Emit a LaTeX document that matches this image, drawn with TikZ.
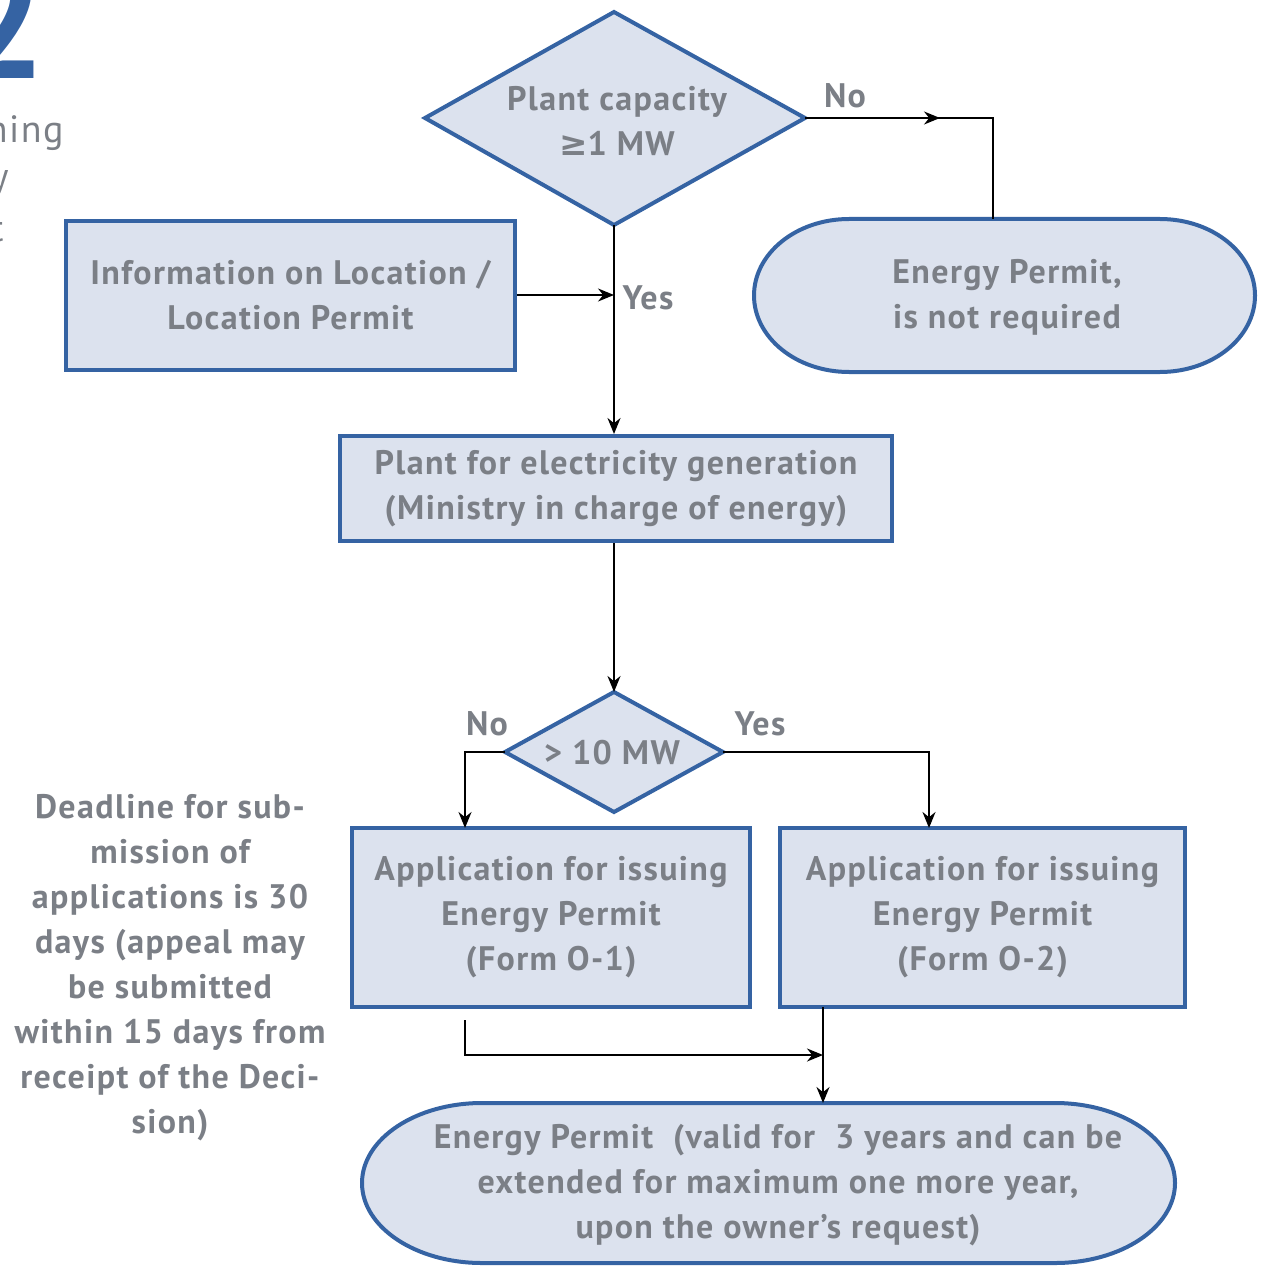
\documentclass[tikz,border=0pt]{standalone}
\usepackage{fontspec}
\setmainfont{PT Sans}[LetterSpace=4]
\newfontfamily\dv{DejaVu Sans}
\usetikzlibrary{arrows.meta}
\definecolor{bord}{HTML}{3563A3}
\definecolor{fil}{HTML}{DCE2EE}
\definecolor{txt}{HTML}{7B7F86}
\begin{document}
\begin{tikzpicture}[x=0.5pt,y=-0.5pt,
  every node/.style={font=\bfseries\fontsize{17}{22.5}\selectfont, text=txt},
  box/.style={draw=bord, fill=fil, line width=2pt, inner sep=0pt, align=center},
  shapeline/.style={draw=bord, fill=fil, line width=2pt},
  lbl/.style={inner sep=0pt, align=center},
  conn/.style={draw=black, line width=1pt},
  arr/.style={conn, -{Stealth[length=8pt,width=6.5pt]}}]
\useasboundingbox (0,0) rectangle (1263,1267);
\clip (0,0) rectangle (1263,1267);

% cut-off fragments at top-left
\node[anchor=base east, inner sep=0pt, text=bord, font=\bfseries\fontsize{80}{80}\selectfont] (big) at (47,79) {2};
\node[anchor=base east, inner sep=0pt, font=\fontsize{19}{22}\selectfont] (fa) at (64,143) {ning};
\node[anchor=base east, inner sep=0pt, font=\fontsize{19}{22}\selectfont] (fb) at (9,190) {y};
\node[anchor=base east, inner sep=0pt, font=\fontsize{19}{22}\selectfont] (fc) at (4,242) {t};

% diamond 1
\coordinate (d1w) at (425,118);
\coordinate (d1e) at (805,118);
\coordinate (d1n) at (614,12);
\coordinate (d1s) at (614,225);
\draw[shapeline] (d1w) -- (d1n) -- (d1e) -- (d1s) -- cycle;
\node[lbl] (d1t) at (617,121) {Plant capacity\\{\dv ≥}1 MW};

% stadium: energy permit not required
\path[shapeline] (849,219) -- (1160,219)
  arc[start angle=-90,end angle=90,x radius=95,y radius=76.5]
  -- (849,372) arc[start angle=90,end angle=270,x radius=95,y radius=76.5] -- cycle;
\node[lbl] (ep) at (1007,297) {Energy Permit,\\is not required};
\coordinate (epn) at (993,219);

% info box
\node[box, minimum width=224.5pt, minimum height=74.5pt] (info) at (290.5,295.5) {Information on Location /\\Location Permit};

% plant box
\node[box, minimum width=276pt, minimum height=52.5pt] (plant) at (616,488.5) {Plant for electricity generation\\(Ministry in charge of energy)};

% diamond 2
\coordinate (d2w) at (505,752);
\coordinate (d2e) at (723,752);
\coordinate (d2n) at (614,692);
\coordinate (d2s) at (614,812);
\draw[shapeline] (d2w) -- (d2n) -- (d2e) -- (d2s) -- cycle;
\node[lbl] (d2t) at (612,753) {> 10 MW};

% application boxes
\node[box, minimum width=199pt, minimum height=89.5pt] (app1) at (551,917.5) {Application for issuing\\Energy Permit\\(Form O-1)};
\node[box, minimum width=202.5pt, minimum height=89.5pt] (app2) at (982.5,917.5) {Application for issuing\\Energy Permit\\(Form O-2)};

% final stadium
\path[shapeline] (482,1103) -- (1055,1103)
  arc[start angle=-90,end angle=90,x radius=120,y radius=80]
  -- (482,1263) arc[start angle=90,end angle=270,x radius=120,y radius=80] -- cycle;
\node[lbl] (fin) at (778,1185) {Energy Permit\ \ (valid for\ \ 3 years and can be\\extended for maximum one more year,\\upon the owner’s request)};
\coordinate (finn) at (823,1103);

% left note
\node[lbl] (note) at (170,968) {Deadline for sub-\\mission of\\applications is 30\\days (appeal may\\be submitted\\within 15 days from\\receipt of the Deci-\\sion)};

% labels
\node[lbl] (no1) at (845,96) {No};
\node[lbl] (yes1) at (648,298) {Yes};
\node[lbl] (no2) at (487,724) {No};
\node[lbl] (yes2) at (760,724) {Yes};

% connectors
\coordinate (nt) at (993,118);
\coordinate (nm) at (940,118);
\draw[conn] (d1e) -- (nt) -- (epn);
\draw[arr] (d1e) -- (nm);
\coordinate (yj) at (614,295);
\draw[arr] (info.east |- yj) -- (yj);
\draw[arr] (d1s) -- (plant.north -| d1s);
\draw[arr] (plant.south -| d2n) -- (d2n);
\coordinate (l1) at (465,752);
\coordinate (l2) at (465,828);
\draw[arr] (d2w) -- (l1) -- (l2);
\coordinate (r1) at (929,752);
\coordinate (r2) at (929,828);
\draw[arr] (d2e) -- (r1) -- (r2);
\coordinate (b0) at (465,1020);
\coordinate (b1) at (465,1055);
\coordinate (b2) at (823,1055);
\draw[arr] (b0) -- (b1) -- (b2);
\coordinate (a2s) at (823,1007);
\draw[arr] (a2s) -- (finn);
\end{tikzpicture}
\end{document}
